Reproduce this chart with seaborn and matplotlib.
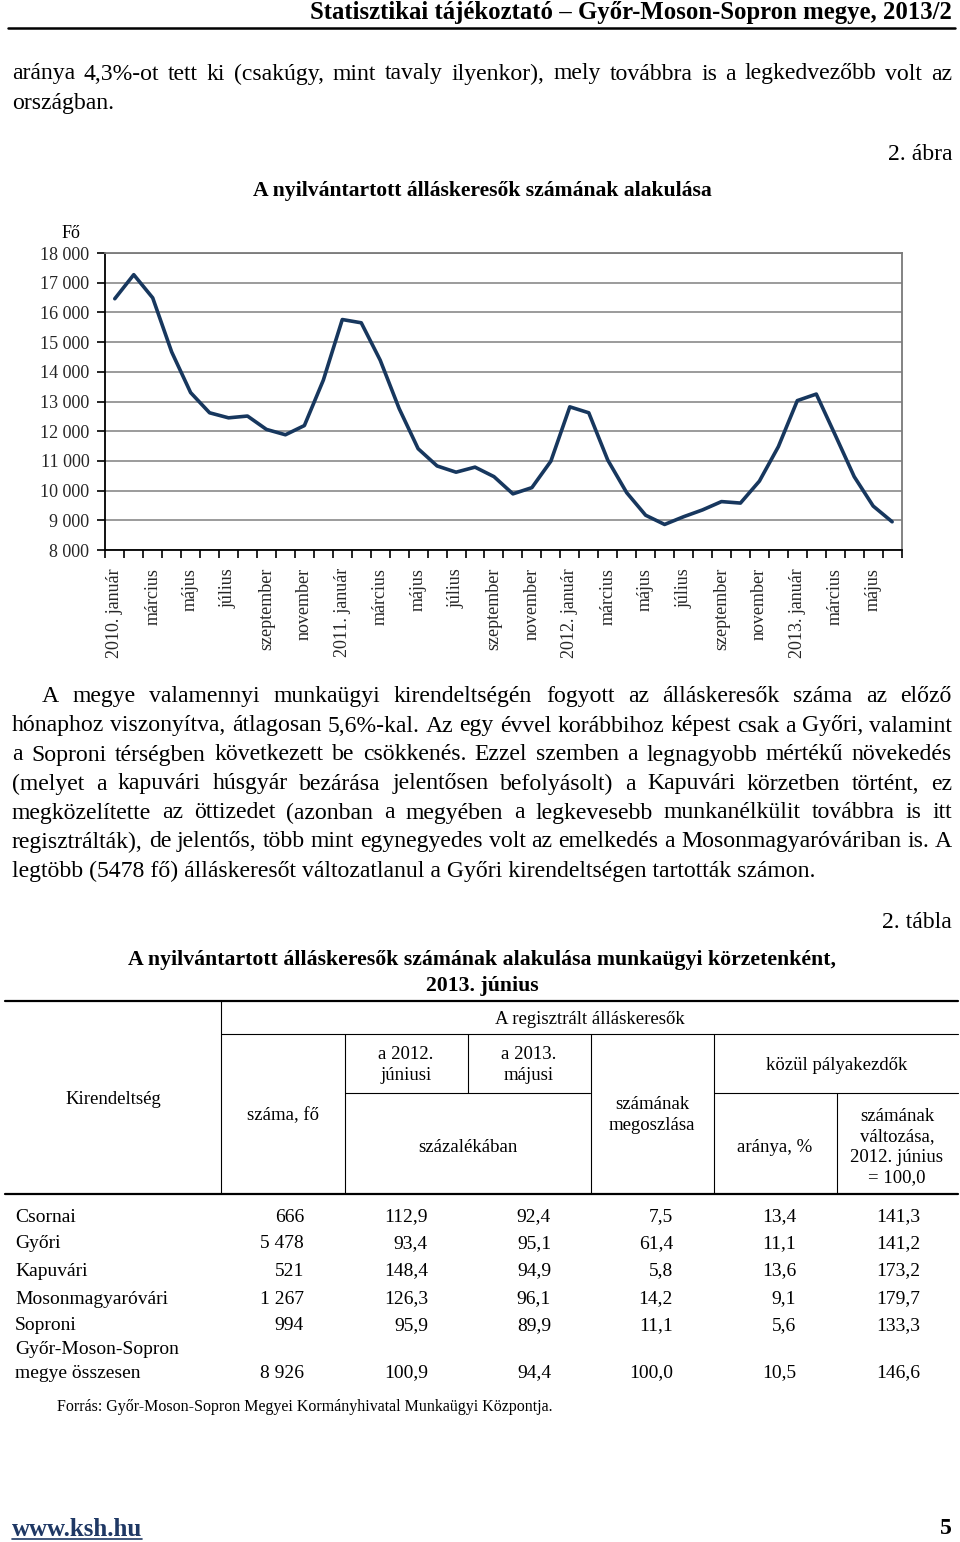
import numpy as np
import pandas as pd
import matplotlib
matplotlib.use("Agg")
import matplotlib.pyplot as plt
from matplotlib.lines import Line2D
from matplotlib.ticker import FuncFormatter
import seaborn as sns

W, H = 960, 1542

# ---- adatok: grafikon ----
month_labels = ["2010. január", "március", "május", "július", "szeptember", "november",
                "2011. január", "március", "május", "július", "szeptember", "november",
                "2012. január", "március", "május", "július", "szeptember", "november",
                "2013. január", "március", "május"]
jobseekers = [16460, 17270, 16490, 14670, 13300, 12620, 12450, 12510, 12060, 11880, 12190, 13720,
              15760, 15650, 14390, 12760, 11410, 10830, 10620, 10790, 10470, 9890, 10100, 10990,
              12820, 12620, 11030, 9930, 9170, 8860, 9120, 9350, 9630, 9580, 10320, 11480,
              13030, 13250, 11870, 10470, 9480, 8950]

# ---- adatok: tábla ----
districts = ["Csornai", "Győri", "Kapuvári", "Mosonmagyaróvári", "Soproni",
             "Győr-Moson-Sopron\nmegye összesen"]
counts = [666, 5478, 521, 1267, 994, 8926]
vs_2012_jun = [112.9, 93.4, 148.4, 126.3, 95.9, 100.9]
vs_2013_may = [92.4, 95.1, 94.9, 96.1, 89.9, 94.4]
share = [7.5, 61.4, 5.8, 14.2, 11.1, 100.0]
starter_rate = [13.4, 11.1, 13.6, 9.1, 5.6, 10.5]
starter_change = [141.3, 141.2, 173.2, 179.7, 133.3, 146.6]

para1 = ["aránya 4,3%-ot tett ki (csakúgy, mint tavaly ilyenkor), mely továbbra is a legkedvezőbb volt az",
         "országban."]
para2 = ["A megye valamennyi munkaügyi kirendeltségén fogyott az álláskeresők száma az előző",
         "hónaphoz viszonyítva, átlagosan 5,6%-kal. Az egy évvel korábbihoz képest csak a Győri, valamint",
         "a Soproni térségben következett be csökkenés. Ezzel szemben a legnagyobb mértékű növekedés",
         "(melyet a kapuvári húsgyár bezárása jelentősen befolyásolt) a Kapuvári körzetben történt, ez",
         "megközelítette az öttizedet (azonban a megyében a legkevesebb munkanélkülit továbbra is itt",
         "regisztrálták), de jelentős, több mint egynegyedes volt az emelkedés a Mosonmagyaróváriban is. A",
         "legtöbb (5478 fő) álláskeresőt változatlanul a Győri kirendeltségen tartották számon."]

sns.set_theme(style="white")
plt.rcParams['font.family'] = ['Liberation Serif', 'DejaVu Serif']

fig = plt.figure(figsize=(W / 100, H / 100), dpi=100)
renderer = fig.canvas.get_renderer()

BODY = 17.1


def fx(x):
    return x / W


def fy(y):
    return 1 - y / H


def put(x, y, s, size=BODY, **kw):
    kw.setdefault("va", "center")
    return fig.text(fx(x), fy(y + 2), s, fontsize=size, color=kw.pop("color", "black"), **kw)


def justify(line, x0, x1, y, size=BODY):
    words = line.split()
    arts = [put(x0, y, w, size=size, ha="left") for w in words]
    widths = [a.get_window_extent(renderer).width for a in arts]
    gap = (x1 - x0 - sum(widths)) / (len(words) - 1)
    x = x0
    for a, w in zip(arts, widths):
        a.set_x(fx(x))
        x += w + gap


def hline(y, x0, x1, lw=0.8, color="black"):
    fig.add_artist(Line2D([fx(x0), fx(x1)], [fy(y), fy(y)], lw=lw, color=color))


def vline(x, y0, y1, lw=0.8, color="black"):
    fig.add_artist(Line2D([fx(x), fx(x)], [fy(y0), fy(y1)], lw=lw, color=color))


def num(v, dec=1):
    if dec == 0:
        return f"{v:,}".replace(",", " ")
    return f"{v:.{dec}f}".replace(".", ",")


# fejléc
put(952, 10, "Statisztikai tájékoztató – Győr-Moson-Sopron megye, 2013/2", size=17.8,
    ha="right", fontweight="bold")
hline(28, 8, 955, lw=1.8)

# első bekezdés
justify(para1[0], 12, 952, 72)
put(12, 101, para1[1], ha="left")

put(952, 152, "2. ábra", ha="right")
put(482, 189, "A nyilvántartott álláskeresők számának alakulása", size=15.6, ha="center",
    fontweight="bold")
put(71, 232, "Fő", size=13, ha="center")

# ---- grafikon ----
x_left, x_right, y_top, y_bot = 105.3, 901.6, 253, 550
ax = fig.add_axes([fx(x_left), fy(y_bot), (x_right - x_left) / W, (y_bot - y_top) / H])
df = pd.DataFrame({"honap": np.arange(len(jobseekers)), "fo": jobseekers})
sns.lineplot(data=df, x="honap", y="fo", ax=ax, color="#17375E", linewidth=2.6)
ax.set_xlim(-0.5, len(jobseekers) - 0.5)
ax.set_ylim(8000, 18000)
ax.set_yticks(range(8000, 18001, 1000))
ax.yaxis.set_major_formatter(FuncFormatter(lambda v, p: f"{int(v):,}".replace(",", " ")))
ax.yaxis.grid(True, color="#8a8a8a", lw=1.2)
ax.set_axisbelow(True)
ax.set_xticks(np.arange(0, len(jobseekers), 2))
ax.set_xticklabels(month_labels, rotation=90, va="top", ha="center")
ax.set_xticks(np.arange(-0.5, len(jobseekers), 1), minor=True)
ax.tick_params(axis="x", which="major", length=0, pad=13, labelsize=13)
ax.tick_params(axis="x", which="minor", bottom=True, length=5.5, width=1.2, direction="out",
               color="black")
ax.tick_params(axis="y", left=True, length=5.5, width=1.2, direction="out", pad=6,
               labelsize=13, color="black")
ax.set_xlabel("")
ax.set_ylabel("")
for side in ["left", "bottom"]:
    ax.spines[side].set_color("black")
    ax.spines[side].set_linewidth(1.3)
for side in ["top", "right"]:
    ax.spines[side].set_color("#7a7a7a")
    ax.spines[side].set_linewidth(1.3)

# második bekezdés
for k, line in enumerate(para2):
    y = 695 + 29 * k
    x0 = 42 if k == 0 else 12
    if k < len(para2) - 1:
        justify(line, x0, 952, y)
    else:
        put(x0, y, line, ha="left")

# ---- tábla ----
put(952, 920, "2. tábla", ha="right")
put(482, 958, "A nyilvántartott álláskeresők számának alakulása munkaügyi körzetenként,",
    size=15.7, ha="center", fontweight="bold")
put(482, 984, "2013. június", size=15.7, ha="center", fontweight="bold")

hline(1001, 5, 958, lw=1.6)
hline(1194, 5, 958, lw=1.6)
hline(1034, 221, 958)
hline(1093, 345, 590)
hline(1093, 714, 958)
vline(221, 1001, 1194)
vline(345, 1034, 1194)
vline(468, 1034, 1093)
vline(591, 1034, 1194)
vline(714, 1034, 1194)
vline(837, 1093, 1194)

hs = 13.5
ls = 1.25
put(590, 1018, "A regisztrált álláskeresők", size=hs, ha="center")
put(113, 1098, "Kirendeltség", size=hs, ha="center")
put(283, 1114, "száma, fő", size=hs, ha="center")
put(406, 1063, "a 2012.\njúniusi", size=hs, ha="center", multialignment="center", linespacing=ls)
put(529, 1063, "a 2013.\nmájusi", size=hs, ha="center", multialignment="center", linespacing=ls)
put(468, 1145, "százalékában", size=hs, ha="center")
put(652, 1113, "számának\nmegoszlása", size=hs, ha="center", multialignment="center", linespacing=ls)
put(837, 1063, "közül pályakezdők", size=hs, ha="center")
put(775, 1145, "aránya, %", size=hs, ha="center")
put(897, 1145, "számának\nváltozása,\n2012. június\n= 100,0", size=hs, ha="center",
    multialignment="center", linespacing=ls)

col_right = [304, 428, 551, 673, 796, 920]
row_y = [1215, 1242, 1269, 1297, 1324, 1371]
ts = 14
for i, name in enumerate(districts):
    y = row_y[i]
    parts = name.split("\n")
    if len(parts) == 2:
        put(15, y - 23, parts[0], size=ts, ha="left")
        put(15, y, parts[1], size=ts, ha="left")
    else:
        put(15, y, name, size=ts, ha="left")
    vals = [num(counts[i], 0), num(vs_2012_jun[i]), num(vs_2013_may[i]), num(share[i]),
            num(starter_rate[i]), num(starter_change[i])]
    for xr, v in zip(col_right, vals):
        put(xr, y, v, size=ts, ha="right")

put(57, 1405, "Forrás: Győr-Moson-Sopron Megyei Kormányhivatal Munkaügyi Központja.", size=11.5,
    ha="left")

# lábléc
link = put(12, 1527, "www.ksh.hu", size=18, ha="left", color="#1F3864", fontweight="bold")
lw_px = link.get_window_extent(renderer).width
hline(1539, 12, 12 + lw_px, lw=1.2, color="#1F3864")
put(952, 1527, "5", size=17, ha="right", fontweight="bold")

fig.savefig("out.png", dpi=100, facecolor="white")
